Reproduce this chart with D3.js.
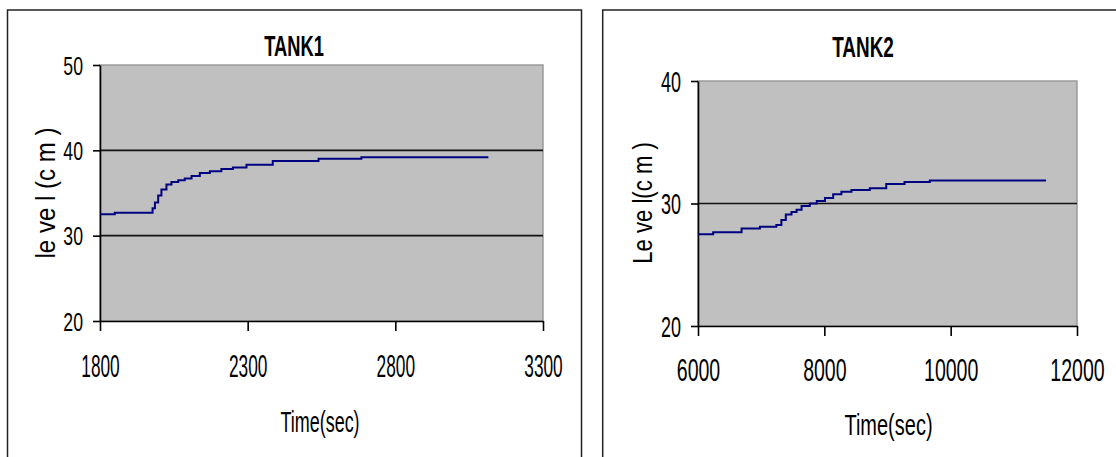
<!DOCTYPE html>
<html>
<head>
<meta charset="utf-8">
<script src="https://cdn.jsdelivr.net/npm/d3@7"></script>
<style>
  html, body { margin: 0; padding: 0; background: #fff; }
  svg { display: block; }
  text { font-family: "Liberation Sans", Arial, sans-serif; fill: #000; }
</style>
</head>
<body>
<svg id="chart" width="1116" height="457"></svg>
<script>
// ---------- DATA ----------
const tank1Time  = [1800, 1850, 1975, 1978, 1986, 1997, 2008, 2025, 2042, 2065, 2087, 2110, 2138, 2172, 2211, 2250, 2296, 2385, 2540, 2685, 3115];
const tank1Level = [32.5, 32.7, 32.7, 33.2, 33.9, 34.7, 35.4, 36.0, 36.3, 36.5, 36.7, 37.0, 37.35, 37.55, 37.8, 38.0, 38.3, 38.75, 39.0, 39.2, 39.2];
const tank1XTicks = [1800, 2300, 2800, 3300];
const tank1YTicks = [20, 30, 40, 50];

const tank2Time  = [6000, 6240, 6690, 6980, 7240, 7320, 7390, 7480, 7560, 7640, 7770, 7880, 8010, 8140, 8270, 8430, 8720, 8980, 9270, 9670, 11510];
const tank2Level = [27.5, 27.65, 27.95, 28.1, 28.25, 28.65, 29.1, 29.3, 29.5, 29.8, 30.0, 30.2, 30.45, 30.75, 30.95, 31.1, 31.25, 31.6, 31.75, 31.88, 31.88];
const tank2XTicks = [6000, 8000, 10000, 12000];
const tank2YTicks = [20, 30, 40];

const titles = ["TANK1", "TANK2"];
const xTitles = ["Time(sec)", "Time(sec)"];
const yTitles = ["le ve l (c m )", "Le ve l(c m )"];

// ---------- LAYOUT ----------
const svg = d3.select("#chart");

const charts = [
  {
    time: tank1Time, level: tank1Level, xTicks: tank1XTicks, yTicks: tank1YTicks,
    title: titles[0], xTitle: xTitles[0], yTitle: yTitles[0],
    frame: {x: 7.5, y: 10, w: 574, h: 460},
    plot: {x0: 100, x1: 543, y0: 65, y1: 321},
    xDomain: [1800, 3300], yDomain: [20, 50],
    titlePos: [294, 45], xTitlePos: [320, 423], yTitlePos: [45, 193],
    titleSx: 0.61, xTitleSx: 0.62, yTitleSx: 0.86,
    yLab: {f: 26, sx: 0.68, off: 17}, xLab: {f: 32, sx: 0.54, off: 45},
    xTickLen: 10, yTickLen: 7
  },
  {
    time: tank2Time, level: tank2Level, xTicks: tank2XTicks, yTicks: tank2YTicks,
    title: titles[1], xTitle: xTitles[1], yTitle: yTitles[1],
    frame: {x: 602.7, y: 10, w: 600, h: 460},
    plot: {x0: 698, x1: 1077, y0: 81, y1: 326},
    xDomain: [6000, 12000], yDomain: [20, 40],
    titlePos: [863, 46], xTitlePos: [888.5, 426], yTitlePos: [642, 203],
    titleSx: 0.63, xTitleSx: 0.69, yTitleSx: 0.79,
    yLab: {f: 29, sx: 0.62, off: 17}, xLab: {f: 31, sx: 0.63, off: 44},
    xTickLen: 10, yTickLen: 7
  }
];

charts.forEach(c => {
  const g = svg.append("g");

  // outer frame
  g.append("rect")
    .attr("x", c.frame.x).attr("y", c.frame.y)
    .attr("width", c.frame.w).attr("height", c.frame.h)
    .attr("fill", "#fff").attr("stroke", "#222").attr("stroke-width", 1.5);

  const x = d3.scaleLinear().domain(c.xDomain).range([c.plot.x0, c.plot.x1]);
  const y = d3.scaleLinear().domain(c.yDomain).range([c.plot.y1, c.plot.y0]);

  // plot area
  g.append("rect")
    .attr("x", c.plot.x0).attr("y", c.plot.y0)
    .attr("width", c.plot.x1 - c.plot.x0).attr("height", c.plot.y1 - c.plot.y0)
    .attr("fill", "#c0c0c0").attr("stroke", "#9a9a9a").attr("stroke-width", 1.5);

  // gridlines (interior ticks)
  const gridVals = c.yTicks.filter(v => v > c.yDomain[0] && v < c.yDomain[1]);
  g.selectAll(".grid").data(gridVals).enter().append("line")
    .attr("x1", c.plot.x0).attr("x2", c.plot.x1)
    .attr("y1", d => y(d)).attr("y2", d => y(d))
    .attr("stroke", "#111").attr("stroke-width", 1.6);

  // axes
  const yAxis = d3.axisLeft(y).tickValues(c.yTicks).tickSize(c.yTickLen).tickSizeOuter(0).tickFormat(d3.format("d"));
  const xAxis = d3.axisBottom(x).tickValues(c.xTicks).tickSize(c.xTickLen).tickSizeOuter(0).tickFormat(d3.format("d"));

  const ya = g.append("g").attr("transform", `translate(${c.plot.x0},0)`).call(yAxis);
  const xa = g.append("g").attr("transform", `translate(0,${c.plot.y1})`).call(xAxis);

  [ya, xa].forEach(a => {
    a.select(".domain").attr("stroke", "#000").attr("stroke-width", 1.6);
    a.selectAll(".tick line").attr("stroke", "#000").attr("stroke-width", 1.6);
  });

  ya.selectAll(".tick text")
    .attr("x", null).attr("dy", null)
    .attr("font-size", c.yLab.f)
    .attr("text-anchor", "end")
    .attr("transform", `translate(${-c.yLab.off},${0.358 * c.yLab.f}) scale(${c.yLab.sx},1)`);

  xa.selectAll(".tick text")
    .attr("y", null).attr("dy", null)
    .attr("font-size", c.xLab.f)
    .attr("text-anchor", "middle")
    .attr("transform", `translate(0,${c.xLab.off + 0.358 * c.xLab.f}) scale(${c.xLab.sx},1)`);

  // series line
  const pts = c.time.map((t, i) => [t, c.level[i]]);
  const line = d3.line().x(d => x(d[0])).y(d => y(d[1])).curve(d3.curveStepAfter);
  g.append("path").datum(pts)
    .attr("d", line)
    .attr("fill", "none").attr("stroke", "#000080").attr("stroke-width", 2);

  // title
  g.append("text")
    .attr("text-anchor", "middle").attr("font-weight", "bold").attr("font-size", 30)
    .attr("transform", `translate(${c.titlePos[0]},${c.titlePos[1] + 0.358 * 30}) scale(${c.titleSx},1)`)
    .text(c.title);

  // x title
  g.append("text")
    .attr("text-anchor", "middle").attr("font-size", 29)
    .attr("transform", `translate(${c.xTitlePos[0]},${c.xTitlePos[1] + 0.3 * 29}) scale(${c.xTitleSx},1)`)
    .text(c.xTitle);

  // y title (rotated)
  g.append("text")
    .attr("text-anchor", "middle").attr("font-size", 28)
    .attr("transform", `translate(${c.yTitlePos[0] + 0.36 * 28},${c.yTitlePos[1]}) rotate(-90) scale(${c.yTitleSx},1)`)
    .text(c.yTitle);
});
</script>
</body>
</html>
